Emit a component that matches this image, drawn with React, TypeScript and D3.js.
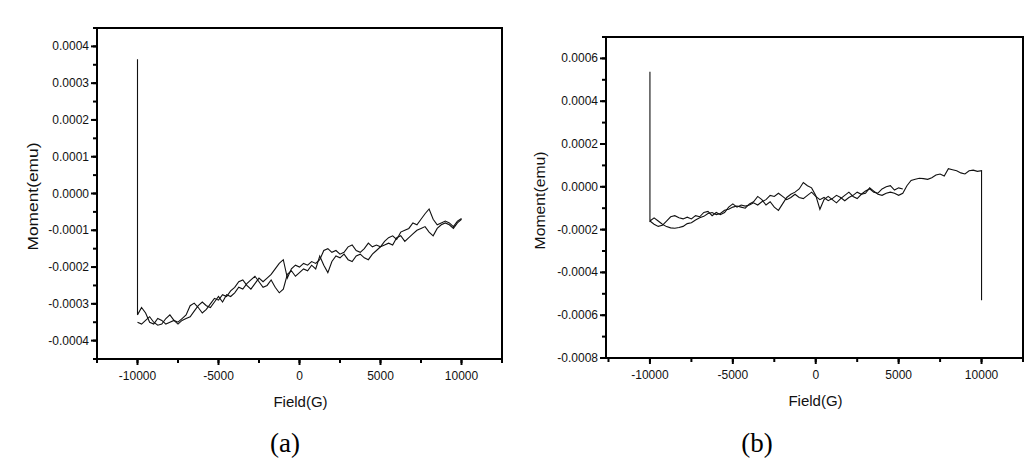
import React from "react";
import * as d3 from "d3";

// Field sweep grid (G), 250 G steps from -10000 to 10000
const fieldGrid: number[] = d3.range(-10000, 10001, 250);

// Panel (a): moments in units of 1e-4 emu
const aBranch1: number[] = [
  -3.30, -3.10, -3.25, -3.50, -3.55, -3.40, -3.45, -3.55, -3.50, -3.45,
  -3.50, -3.40, -3.30, -3.05, -2.98, -3.10, -3.25, -3.15, -3.00, -2.85,
  -2.90, -2.75, -2.80, -2.65, -2.55, -2.40, -2.35, -2.50, -2.60, -2.45,
  -2.30, -2.40, -2.30, -2.20, -2.05, -1.90, -1.80, -2.30, -2.05, -1.95,
  -2.00, -1.90, -1.95, -1.85, -1.90, -1.80, -1.55, -1.50, -1.60, -1.55,
  -1.65, -1.60, -1.45, -1.40, -1.55, -1.60, -1.50, -1.35, -1.45, -1.40,
  -1.45, -1.30, -1.20, -1.15, -1.25, -1.05, -1.00, -0.95, -0.80, -0.85,
  -0.70, -0.55, -0.42, -0.70, -0.85, -0.80, -0.75, -0.80, -0.90, -0.75,
  -0.68,
];
const aBranch2: number[] = [
  -3.50, -3.55, -3.45, -3.35, -3.50, -3.58, -3.55, -3.40, -3.30, -3.45,
  -3.55, -3.45, -3.40, -3.35, -3.20, -3.05, -2.95, -3.05, -3.10, -2.95,
  -2.80, -2.95, -2.75, -2.80, -2.70, -2.55, -2.60, -2.45, -2.35, -2.25,
  -2.40, -2.55, -2.50, -2.35, -2.55, -2.70, -2.60, -2.20, -2.10, -2.25,
  -2.15, -2.05, -2.10, -1.95, -2.05, -1.70, -1.95, -2.15, -1.85, -1.70,
  -1.75, -1.65, -1.80, -1.85, -1.70, -1.65, -1.75, -1.80, -1.65, -1.55,
  -1.45, -1.40, -1.35, -1.40, -1.20, -1.15, -1.30, -1.20, -1.10, -1.00,
  -0.95, -0.90, -1.05, -1.15, -0.95, -0.85, -0.80, -0.85, -0.95, -0.80,
  -0.70,
];
const aSpikeTop = 3.65;

// Panel (b): moments in units of 1e-4 emu
const bBranch1: number[] = [
  -1.60, -1.45, -1.60, -1.75, -1.86, -1.92, -1.94, -1.90, -1.85, -1.72,
  -1.68, -1.55, -1.45, -1.38, -1.25, -1.20, -1.30, -1.25, -1.10, -1.05,
  -0.95, -0.90, -0.95, -1.00, -0.80, -0.70, -0.45, -0.60, -0.85, -0.70,
  -0.95, -1.10, -0.80, -0.50, -0.35, -0.25, -0.10, 0.20, 0.05, -0.05,
  -0.40, -1.05, -0.60, -0.45, -0.60, -0.75, -0.55, -0.40, -0.25, -0.45,
  -0.55, -0.35, -0.30, -0.05, -0.20, -0.35, -0.40, -0.30, -0.25, -0.30,
  -0.40, -0.30, 0.05, 0.30, 0.35, 0.40, 0.38, 0.35, 0.42, 0.55,
  0.60, 0.50, 0.85, 0.80, 0.75, 0.65, 0.60, 0.75, 0.78, 0.72,
  0.75,
];
const bBranch2: number[] = [
  -1.60, -1.75, -1.85, -1.80, -1.60, -1.40, -1.35, -1.45, -1.50, -1.42,
  -1.50, -1.35, -1.40, -1.20, -1.15, -1.35, -1.20, -1.30, -1.20, -0.95,
  -0.80, -0.95, -0.85, -0.90, -0.85, -0.75, -0.85, -0.70, -0.60, -0.40,
  -0.45, -0.30, -0.45, -0.60, -0.50, -0.35, -0.50, -0.55, -0.40, -0.25,
  -0.45, -0.60, -0.50, -0.65, -0.55, -0.40, -0.50, -0.65, -0.50, -0.40,
  -0.25, -0.35, -0.20, -0.10, -0.25, -0.30, -0.10, 0.00, 0.05, -0.15,
  -0.05, -0.10,
];
const bSpikeTop = 5.38;
const bSpikeBottom = -5.3;

const xTicks = [-10000, -5000, 0, 5000, 10000];
const aYTicks = [0.0004, 0.0003, 0.0002, 0.0001, 0, -0.0001, -0.0002, -0.0003, -0.0004];
const bYTicks = [0.0006, 0.0004, 0.0002, 0, -0.0002, -0.0004, -0.0006, -0.0008];

type PanelProps = {
  xDomain: [number, number];
  xRange: [number, number];
  yDomain: [number, number];
  yRange: [number, number];
  yTicks: number[];
  yMinorStep: number;
  series: [number, number][][];
  yLabelX: number;
  yLabelLen: number;
  letter: string;
  letterX: number;
};

function Panel(p: PanelProps) {
  const x = d3.scaleLinear().domain(p.xDomain).range(p.xRange);
  const y = d3.scaleLinear().domain(p.yDomain).range(p.yRange);
  const [x0, x1] = p.xRange;
  const [yb, yt] = p.yRange;
  const line = d3
    .line<[number, number]>()
    .x((d) => x(d[0]))
    .y((d) => y(d[1] * 1e-4));
  const xMinor = d3.range(-12500, 12501, 2500).filter((v) => x(v) >= x0 - 0.5 && x(v) <= x1 + 0.5);
  const yMinor = d3
    .range(p.yDomain[0], p.yDomain[1] + 1e-12, p.yMinorStep)
    .map((v) => Math.round(v / p.yMinorStep) * p.yMinorStep);
  const font = "'Liberation Sans', Arial, sans-serif";
  return (
    <g>
      {p.series.map((s, i) => (
        <path key={i} d={line(s) || ""} fill="none" stroke="#111" strokeWidth={1.1} />
      ))}
      <rect x={x0} y={yt} width={x1 - x0} height={yb - yt} fill="none" stroke="#000" strokeWidth={2} />
      {xMinor.map((v) => (
        <line key={"xm" + v} x1={x(v)} x2={x(v)} y1={yb} y2={yb + 4} stroke="#000" strokeWidth={2} />
      ))}
      {xTicks.map((v) => (
        <g key={"xt" + v}>
          <line x1={x(v)} x2={x(v)} y1={yb} y2={yb + 6} stroke="#000" strokeWidth={2} />
          <text x={x(v)} y={yb + 21} textAnchor="middle" fontSize={12} fontFamily={font} fill="#111">
            {v}
          </text>
        </g>
      ))}
      {yMinor.map((v, i) => (
        <line key={"ym" + i} x1={x0 - 4} x2={x0} y1={y(v)} y2={y(v)} stroke="#000" strokeWidth={2} />
      ))}
      {p.yTicks.map((v) => (
        <g key={"yt" + v}>
          <line x1={x0 - 6} x2={x0} y1={y(v)} y2={y(v)} stroke="#000" strokeWidth={2} />
          <text x={x0 - 8} y={y(v) + 4} textAnchor="end" fontSize={12} fontFamily={font} fill="#111">
            {v.toFixed(4)}
          </text>
        </g>
      ))}
      <text
        x={(x0 + x1) / 2 + 1}
        y={yb + 48}
        textAnchor="middle"
        fontSize={15}
        fontFamily={font}
        fill="#111"
      >
        Field(G)
      </text>
      <text
        transform={`translate(${p.yLabelX},${(yb + yt) / 2 + 3}) rotate(-90)`}
        textAnchor="middle"
        fontSize={15}
        fontFamily={font}
        fill="#111"
        textLength={p.yLabelLen}
        lengthAdjust="spacingAndGlyphs"
      >
        Moment(emu)
      </text>
      <text
        x={p.letterX}
        y={452}
        textAnchor="middle"
        fontSize={27}
        fontFamily="'Liberation Serif', 'Times New Roman', serif"
        fill="#000"
      >
        {p.letter}
      </text>
    </g>
  );
}

export default function App() {
  const aS1: [number, number][] = [[-10000, aSpikeTop], ...fieldGrid.map((f, i) => [f, aBranch1[i]] as [number, number])];
  const aS2: [number, number][] = fieldGrid.map((f, i) => [f, aBranch2[i]] as [number, number]);
  const bS1: [number, number][] = [
    [-10000, bSpikeTop],
    ...fieldGrid.map((f, i) => [f, bBranch1[i]] as [number, number]),
    [10000, bSpikeBottom],
  ];
  const bS2: [number, number][] = bBranch2.map((v, i) => [fieldGrid[i], v] as [number, number]);
  return (
    <svg
      width={1036}
      height={466}
      style={{ position: "absolute", left: 0, top: 0, background: "#fff" }}
    >
      <rect width={1036} height={466} fill="#fff" />
      <Panel
        xDomain={[-12500, 12500]}
        xRange={[97, 502]}
        yDomain={[-0.00045, 0.00045]}
        yRange={[359, 28]}
        yTicks={aYTicks}
        yMinorStep={0.00005}
        series={[aS1, aS2]}
        yLabelX={38}
        yLabelLen={108}
        letter="(a)"
        letterX={285}
      />
      <Panel
        xDomain={[-12650, 12500]}
        xRange={[606, 1023]}
        yDomain={[-0.0008, 0.0007]}
        yRange={[358, 37]}
        yTicks={bYTicks}
        yMinorStep={0.0001}
        series={[bS1, bS2]}
        yLabelX={545}
        yLabelLen={98}
        letter="(b)"
        letterX={757}
      />
    </svg>
  );
}
